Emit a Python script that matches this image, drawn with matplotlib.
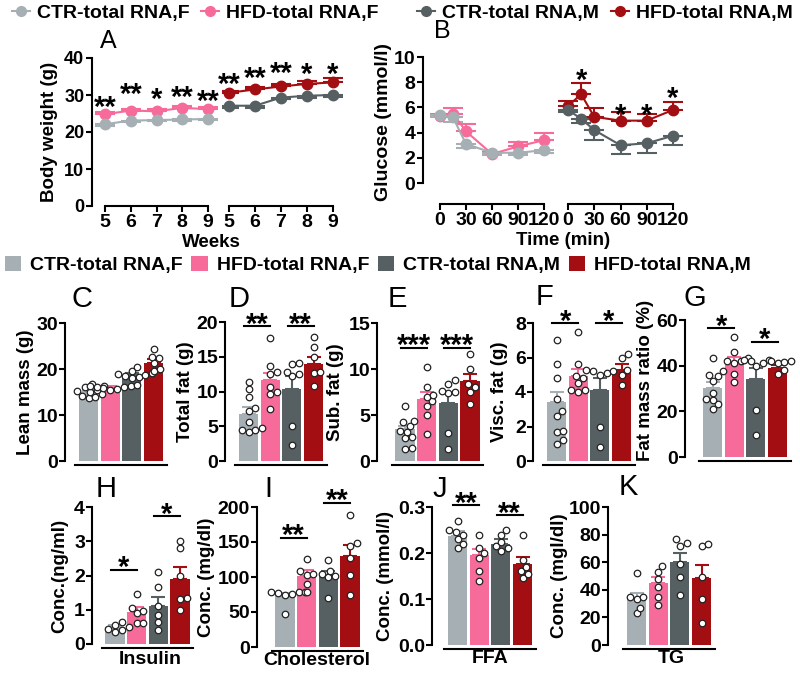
import numpy as np
import matplotlib.pyplot as plt
from matplotlib.lines import Line2D
from matplotlib.patches import Patch

plt.rcParams['font.family'] = ['Liberation Sans', 'DejaVu Sans']
plt.rcParams['font.weight'] = 'bold'
plt.rcParams['axes.labelweight'] = 'bold'
plt.rcParams['axes.linewidth'] = 1.5

# ---- data ----
groups = ['CTR-total RNA,F', 'HFD-total RNA,F', 'CTR-total RNA,M', 'HFD-total RNA,M']
colors = ['#a6afb3', '#f76b9b', '#566062', '#a30e12']

# A: body weight
weeks = [5, 6, 7, 8, 9]
bw_ctr_f = [22.1, 23.1, 23.2, 23.4, 23.5]
bw_hfd_f = [24.8, 25.8, 25.6, 26.5, 26.2]
bw_ctr_m = [27.1, 27.1, 29.3, 29.8, 30.0]
bw_hfd_m = [30.6, 31.5, 32.3, 33.0, 33.4]
bw_sem_ctr_f = [0.4, 0.3, 0.3, 0.3, 0.3]
bw_sem_hfd_f = [0.5, 0.5, 0.5, 0.5, 0.5]
bw_sem_ctr_m = [0.5, 0.5, 0.5, 0.5, 0.5]
bw_sem_hfd_m = [0.6, 0.6, 0.6, 0.7, 1.2]
bw_sig_f = ['**', '**', '*', '**', '**']
bw_sig_m = ['**', '**', '**', '*', '*']

# B: glucose tolerance
minutes = [0, 15, 30, 60, 90, 120]
glu_ctr_f = [5.4, 5.2, 3.1, 2.4, 2.4, 2.6]
glu_hfd_f = [5.3, 5.5, 4.1, 2.3, 2.9, 3.4]
glu_ctr_m = [5.8, 5.1, 4.2, 3.0, 3.15, 3.75]
glu_hfd_m = [6.1, 7.05, 5.25, 4.95, 4.95, 5.8]
glu_sem_ctr_f = [0.2, 0.35, 0.3, 0.15, 0.2, 0.2]
glu_sem_hfd_f = [0.2, 0.45, 0.55, 0.15, 0.35, 0.55]
glu_sem_ctr_m = [0.2, 0.35, 0.75, 0.7, 0.8, 0.75]
glu_sem_hfd_m = [0.4, 0.9, 0.7, 0.65, 0.55, 0.6]
glu_sig_m = ['', '*', '', '*', '*', '*']

# C-K: bar panels (mean, sem, individual animals)
lean_mean = [15.0, 16.0, 18.8, 21.3]
lean_sem = [0.35, 0.2, 0.3, 0.9]
lean_dots = [[13.6, 14.0, 14.2, 14.5, 15.0, 15.2, 15.5, 16.0, 16.2, 16.8],
             [15.4, 15.6, 15.8, 16.0, 16.0, 16.2, 16.4, 16.6],
             [18.0, 18.2, 18.5, 18.8, 19.0, 19.1, 19.5, 20.4],
             [19.6, 19.9, 21.2, 22.3, 22.6, 24.4]]

fat_mean = [6.8, 11.7, 10.4, 14.0]
fat_sem = [0.9, 1.0, 1.8, 1.0]
fat_dots = [[4.2, 4.4, 4.5, 4.8, 5.6, 7.2, 7.6, 9.2, 10.3, 11.4],
            [7.5, 9.6, 10.0, 10.6, 12.5, 12.8, 13.7, 17.7],
            [2.3, 5.0, 12.2, 12.5, 12.8, 14.0, 14.1],
            [10.8, 12.6, 12.8, 15.0, 16.4, 17.8]]

sub_mean = [3.5, 6.7, 6.3, 8.7]
sub_sem = [0.35, 0.8, 1.1, 0.8]
sub_dots = [[1.3, 1.4, 2.5, 2.6, 3.2, 3.3, 3.8, 4.2, 4.4, 6.0],
            [2.9, 5.0, 6.0, 6.5, 7.0, 7.2, 8.0, 10.2],
            [1.3, 3.0, 7.4, 7.5, 7.6, 8.4, 8.8],
            [6.2, 7.5, 8.0, 8.4, 10.0, 11.6]]

visc_mean = [3.4, 4.95, 4.1, 5.3]
visc_sem = [0.6, 0.4, 0.7, 0.35]
visc_dots = [[1.0, 1.2, 1.7, 1.75, 2.6, 2.9, 3.6, 4.8, 5.6, 7.0],
             [4.0, 4.1, 4.1, 4.5, 4.8, 4.9, 5.6, 7.45],
             [0.8, 2.0, 5.0, 5.1, 5.2, 5.2, 5.3],
             [4.4, 5.0, 5.3, 6.0, 6.2]]

ratio_mean = [30.1, 41.8, 34.0, 39.1]
ratio_sem = [2.8, 1.9, 5.0, 1.2]
ratio_dots = [[21, 23, 25, 25.5, 28, 33.5, 35.5, 36, 37.5, 43.5],
              [33, 36.5, 41, 42, 42, 43.5, 45.8, 52.5],
              [9.5, 20.5, 40, 41, 42, 42.5, 42.5],
              [36.5, 38, 41, 41.5, 42, 42]]

ins_mean = [0.49, 0.94, 1.11, 1.91]
ins_sem = [0.06, 0.13, 0.27, 0.35]
ins_dots = [[0.35, 0.4, 0.45, 0.5, 0.55, 0.65],
            [0.6, 0.6, 0.9, 0.95, 1.05, 1.45],
            [0.4, 0.65, 0.85, 1.1, 1.65, 2.1],
            [1.0, 1.3, 1.35, 2.0, 2.8, 3.0]]

chol_mean = [73.8, 101, 102, 130]
chol_sem = [4.0, 8.5, 6.5, 16]
chol_dots = [[47, 75, 76, 77, 78, 79, 79],
             [78, 90, 103, 105, 108, 126],
             [70, 100, 101, 105, 109, 124],
             [75, 103, 127, 145, 148, 189]]

ffa_mean = [0.236, 0.195, 0.220, 0.177]
ffa_sem = [0.012, 0.014, 0.010, 0.014]
ffa_dots = [[0.21, 0.22, 0.23, 0.24, 0.245, 0.25, 0.27],
            [0.14, 0.16, 0.19, 0.20, 0.21, 0.24],
            [0.205, 0.21, 0.215, 0.225, 0.24, 0.25],
            [0.145, 0.155, 0.16, 0.17, 0.185, 0.24]]

tg_mean = [33.7, 44.6, 59.8, 48.9]
tg_sem = [4.3, 4.8, 7.2, 8.9]
tg_dots = [[23, 27, 33, 35, 35, 52],
           [29, 35, 42, 48, 53, 57],
           [36, 49, 58.5, 72, 74, 76.5],
           [16, 33, 49, 72, 73]]

# ---- figure ----
fig = plt.figure(figsize=(8, 6.73), dpi=100)
W, H = 800.0, 673.0
STAR_FS = 21
TICK_FS = 14
LAB_FS = 13.5


def fxy(x, y):
    return x / W, 1 - y / H


def px_axes(x0, y0, x1, y1):
    ax = fig.add_axes([x0 / W, 1 - y1 / H, (x1 - x0) / W, (y1 - y0) / H])
    ax.patch.set_alpha(0)
    ax.spines['top'].set_visible(False)
    ax.spines['right'].set_visible(False)
    ax.tick_params(length=4, width=1.5, pad=1.5, labelsize=TICK_FS)
    return ax


def stars(ax, x, y, txt, dy=0.0):
    # y = centre of the asterisk glyph
    ax.annotate(txt, xy=(x, y), xytext=(0, dy - 0.58 * STAR_FS), textcoords='offset points',
                ha='center', va='baseline', fontsize=STAR_FS, annotation_clip=False)


def ylab(ax, txt, x, y, fs=LAB_FS):
    ax.set_ylabel(txt, fontsize=fs, va='center', ha='center')
    ax.yaxis.set_label_coords(*fxy(x, y), transform=fig.transFigure)


def series(ax, x, y, sem, color, down):
    sem = np.asarray(sem)
    yerr = [sem, np.zeros_like(sem)] if down else [np.zeros_like(sem), sem]
    ax.errorbar(x, y, yerr=yerr, fmt='none', ecolor=color, elinewidth=1.5,
                capsize=7, capthick=1.5, zorder=2)
    ax.plot(x, y, '-o', color=color, lw=1.5, ms=7.5, zorder=3, clip_on=False)


# ---------- A ----------
axA1 = px_axes(92, 58, 218, 206)
axA2 = px_axes(222, 58, 345, 206)
axA1.set_xlim(5 - 13 / 25.75, 9 + 10 / 25.75)
axA2.set_xlim(5 - 7 / 26, 9 + 12 / 26)
for ax in (axA1, axA2):
    ax.set_ylim(0, 40)
    ax.set_xticks(weeks)
    ax.spines['bottom'].set_bounds(5, 9)
axA1.set_yticks([0, 10, 20, 30, 40])
axA1.tick_params(axis='y', labelsize=13)
axA1.spines['left'].set_bounds(0, 40)
axA2.spines['left'].set_visible(False)
axA2.tick_params(axis='y', left=False, labelleft=False)

series(axA1, weeks, bw_hfd_f, bw_sem_hfd_f, colors[1], False)
series(axA1, weeks, bw_ctr_f, bw_sem_ctr_f, colors[0], True)
series(axA2, weeks, bw_hfd_m, bw_sem_hfd_m, colors[3], False)
series(axA2, weeks, bw_ctr_m, bw_sem_ctr_m, colors[2], True)

star_y_af = [29.0, 32.3, 31.2, 31.6, 30.5]
star_y_am = [35.2, 36.8, 38.2, 37.7, 37.9]
for w, s, yy in zip(weeks, bw_sig_f, star_y_af):
    stars(axA1, w, yy, s)
for w, s, yy in zip(weeks, bw_sig_m, star_y_am):
    stars(axA2, w, yy, s)
ylab(axA1, 'Body weight (g)', 50, 132)
fig.text(*fxy(211, 247), 'Weeks', ha='center', va='baseline', fontsize=LAB_FS)

# ---------- B ----------
b_lo = -(204 - 183) / 12.6
axB1 = px_axes(423, 57, 556, 204)
axB2 = px_axes(556, 57, 690, 204)
axB1.set_xlim(-17 / 0.8667, 120 + 12 / 0.8667)
axB2.set_xlim(-12 / 0.875, 120 + 17 / 0.875)
for ax in (axB1, axB2):
    ax.set_ylim(b_lo, 10)
    ax.set_xticks([0, 30, 60, 90, 120])
    ax.spines['bottom'].set_bounds(0, 120)
axB1.set_yticks([0, 2, 4, 6, 8, 10])
axB1.spines['left'].set_bounds(0, 10)
axB2.spines['left'].set_visible(False)
axB2.tick_params(axis='y', left=False, labelleft=False)

series(axB1, minutes, glu_hfd_f, glu_sem_hfd_f, colors[1], False)
series(axB1, minutes, glu_ctr_f, glu_sem_ctr_f, colors[0], True)
series(axB2, minutes, glu_hfd_m, glu_sem_hfd_m, colors[3], False)
series(axB2, minutes, glu_ctr_m, glu_sem_ctr_m, colors[2], True)
star_y_b = [0, 8.8, 0, 6.05, 6.05, 7.4]
for t, s, yy in zip(minutes, glu_sig_m, star_y_b):
    if s:
        stars(axB2, t, yy, s)
ylab(axB1, 'Glucose (mmol/l)', 384, 122, fs=14)
fig.text(*fxy(563, 245), 'Time (min)', ha='center', va='baseline', fontsize=LAB_FS)

# ---------- bar panels ----------
SP = 21.67  # px between bar centres


def swarm_x(vals, center, ppu_y, d=6.8):
    vals = np.asarray(vals, float)
    placed = []
    xs = np.empty(len(vals))
    for i in np.argsort(vals):
        y = vals[i] * ppu_y
        k = 0
        while True:
            off = ((k + 1) // 2) * 0.25 * d * (1 if k % 2 else -1)
            if all((off - px) ** 2 + (y - py) ** 2 >= (0.95 * d) ** 2 for px, py in placed):
                break
            k += 1
        placed.append((off, y))
        xs[i] = center + off / SP
    return xs


def bar_panel(spine_x, top, bottom, first_px, ymax, yticks, means, sems, dots,
              ylabel, label_x, label_y=None, sig=()):
    ax = px_axes(spine_x, top, first_px + 3.8 * SP, bottom)
    ax.set_xlim(-(first_px - spine_x) / SP, 3.8)
    ax.set_ylim(0, ymax)
    ax.set_yticks(yticks)
    ax.set_xticks([])
    ax.tick_params(axis='y', pad=1)
    ax.spines['left'].set_bounds(0, ymax)
    ax.spines['bottom'].set_position(('outward', 3))
    ax.spines['bottom'].set_bounds(-0.6, 3.6)
    x = np.arange(4)
    ax.bar(x, means, width=0.88, color=colors, zorder=1)
    for i in range(4):
        ax.errorbar(x[i], means[i], yerr=[[0], [sems[i]]], fmt='none', ecolor=colors[i],
                    elinewidth=1.5, capsize=5, capthick=1.5, zorder=2)
    ppu = (bottom - top) / ymax
    for i, vals in enumerate(dots):
        ax.scatter(swarm_x(vals, i, ppu), vals, s=22, facecolor='white',
                   edgecolor='#222222', linewidth=0.9, zorder=3, clip_on=False)
    for i, j, txt, yy in sig:
        ax.plot([i - 0.2, j], [yy, yy], color='black', lw=1.5, clip_on=False)
        stars(ax, (i - 0.2 + j) / 2, yy, txt, dy=7.5)
    ylab(ax, ylabel, label_x, (top + bottom) / 2 if label_y is None else label_y)
    return ax


bar_panel(65, 323, 461, 88.5, 30, [0, 10, 20, 30], lean_mean, lean_sem, lean_dots,
          'Lean mass (g)', 26)
bar_panel(225, 322, 461, 248.5, 20, [0, 5, 10, 15, 20], fat_mean, fat_sem, fat_dots,
          'Total fat (g)', 186, sig=[(0, 1, '**', 19.4), (2, 3, '**', 19.4)])
bar_panel(377, 323, 461, 405, 15, [0, 5, 10, 15], sub_mean, sub_sem, sub_dots,
          'Sub. fat (g)', 336, sig=[(0, 1, '***', 12.3), (2, 3, '***', 12.3)])
bar_panel(533, 323, 461, 556.5, 8, [0, 2, 4, 6, 8], visc_mean, visc_sem, visc_dots,
          'Visc. fat (g)', 500, sig=[(0, 1, '*', 8.0), (2, 3, '*', 8.0)])
bar_panel(685, 320, 457, 712.5, 60, [0, 20, 40, 60], ratio_mean, ratio_sem, ratio_dots,
          'Fat mass ratio (%)', 645, label_y=380, sig=[(0, 1, '*', 56.4), (2, 3, '*', 50.5)])

bar_panel(92, 507, 644, 115, 4, [0, 1, 2, 3, 4], ins_mean, ins_sem, ins_dots,
          'Conc.(ng/ml)', 60, sig=[(0, 1, '*', 2.17), (2, 3, '*', 3.73)])
bar_panel(257, 507, 647, 285, 200, [0, 50, 100, 150, 200], chol_mean, chol_sem, chol_dots,
          'Conc. (mg/dl)', 207, sig=[(0, 1, '**', 156), (2, 3, '**', 206)])
bar_panel(432, 507, 645, 457.5, 0.3, [0.0, 0.1, 0.2, 0.3], ffa_mean, ffa_sem, ffa_dots,
          'Conc. (mmol/l)', 385, sig=[(0, 1, '**', 0.304), (2, 3, '**', 0.282)])
bar_panel(608, 507, 645, 636.5, 100, [0, 20, 40, 60, 80, 100], tg_mean, tg_sem, tg_dots,
          'Conc. (mgl/dl)', 559)

for txt, x, y in (('Insulin', 150, 664), ('Cholesterol', 317, 665), ('FFA', 490, 663), ('TG', 671, 663)):
    fig.text(*fxy(x, y), txt, ha='center', va='baseline', fontsize=14)

# ---------- panel letters ----------
letters = [('A', 108, 48, 18), ('B', 442, 38, 18),
           ('C', 82, 307, 21), ('D', 239, 307, 21), ('E', 397, 307, 21),
           ('F', 545, 305, 21), ('G', 695, 306, 21),
           ('H', 106, 497, 21), ('I', 268, 497, 21), ('J', 440, 497, 21), ('K', 628, 495, 21)]
for txt, x, y, fs in letters:
    fig.text(*fxy(x, y), txt, ha='center', va='baseline', fontsize=fs, fontweight='normal')

# ---------- legends ----------
line_handles = [Line2D([], [], color=c, marker='o', ms=7, lw=1.5) for c in colors]
leg_kw = dict(loc='center left', ncol=2, frameon=False, fontsize=14, handlelength=0.93,
              handletextpad=0.36, columnspacing=0.6, borderpad=0, borderaxespad=0)
fig.legend(line_handles[:2], groups[:2], bbox_to_anchor=fxy(12, 13), **leg_kw)
fig.legend(line_handles[2:], groups[2:], bbox_to_anchor=fxy(417, 13), **leg_kw)

patch_handles = [Patch(facecolor=c) for c in colors]
fig.legend(patch_handles, groups, loc='center left', ncol=4, frameon=False, fontsize=14,
           handlelength=0.83, handleheight=0.83, handletextpad=0.46, columnspacing=0.45,
           borderpad=0, borderaxespad=0, bbox_to_anchor=fxy(5, 265))

fig.savefig('out.png', dpi=100)
